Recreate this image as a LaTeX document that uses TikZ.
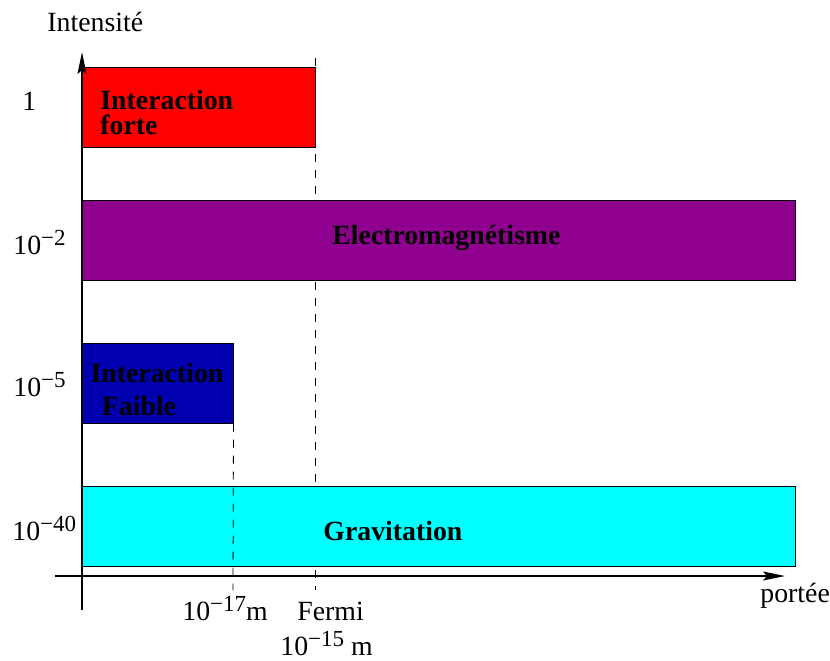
\documentclass[tikz,border=0pt]{standalone}
\usepackage{fontspec}
\setmainfont{Liberation Serif}
\usetikzlibrary{arrows.meta}
\definecolor{rouge}{RGB}{255,0,0}
\definecolor{pourpre}{RGB}{143,0,143}
\definecolor{bleufonce}{RGB}{0,0,176}
\definecolor{cyanvif}{RGB}{0,255,255}
\newcommand\puissance[1]{\raisebox{4.5pt}{\fontsize{11.5}{12}\selectfont#1}}
\tikzset{
  boite/.style={draw=black, line width=0.5pt, inner sep=0pt, minimum height=40pt},
  axe/.style={line width=0.75pt, -{Stealth[length=11pt, width=4.5pt, inset=2pt]}},
  pointille/.style={line width=0.4pt, dash pattern=on 4pt off 4pt},
  etiq/.style={inner sep=0pt, font=\fontsize{13.9}{15}\selectfont},
  titre/.style={inner sep=0pt, font=\fontsize{13.9}{12.5}\bfseries\selectfont}
}
\begin{document}
\begin{tikzpicture}[x=0.5pt,y=-0.5pt]
    \useasboundingbox (0,0) rectangle (830,660);
    %Portees
    \coordinate (fermiH)  at (315,58);
    \coordinate (fermiB)  at (315,590);
    \coordinate (faibleB) at (233,590);
    \draw[pointille] (fermiH) -- (fermiB);
    %Interactions
    \node[boite, fill=rouge,     minimum width=116.5pt] (forte)  at (198.5,107) {};
    \node[boite, fill=pourpre,   minimum width=356.5pt] (em)     at (438.5,240) {};
    \node[boite, fill=bleufonce, minimum width=75.5pt]  (faible) at (157.5,383) {};
    \node[boite, fill=cyanvif,   minimum width=356.5pt] (grav)   at (438.5,526) {};
    \draw[pointille] (faible.south east) -- (faibleB);
    \node[titre, align=left,   anchor=west] (tforte)  at (100,112) {Interaction\\forte};
    \node[titre, align=center]              (tfaible) at (157,389) {Interaction\\[4pt]\hspace*{-18pt}Faible};
    \node[titre, anchor=base west] (tem)   at (332,244) {Electromagnétisme};
    \node[titre, anchor=base west] (tgrav) at (323,540) {Gravitation};
    %Axes
    \coordinate (basY)    at (82,610);
    \coordinate (hautY)   at (82,52);
    \coordinate (gaucheX) at (55,576);
    \coordinate (droiteX) at (785,576);
    \draw[axe] (basY) -- (hautY);
    \draw[axe] (gaucheX) -- (droiteX);
    %Graduations
    \node[etiq, anchor=base west] (intensite) at (47,31)   {Intensité};
    \node[etiq, anchor=base west] (un)        at (22,110)  {1};
    \node[etiq, anchor=base west] (i2)        at (13,254)  {10\puissance{−2}};
    \node[etiq, anchor=base west] (i5)        at (13,396)  {10\puissance{−5}};
    \node[etiq, anchor=base west] (i40)       at (12,540)  {10\puissance{−40}};
    \node[etiq, anchor=base west] (p17)       at (182,620) {10\puissance{−17}m};
    \node[etiq, anchor=base west] (fermi)     at (297,620) {Fermi};
    \node[etiq, anchor=base west] (p15)       at (280,655) {10\puissance{−15} m};
    \node[etiq, anchor=base west] (portee)    at (760,602) {portée};
\end{tikzpicture}
\end{document}
